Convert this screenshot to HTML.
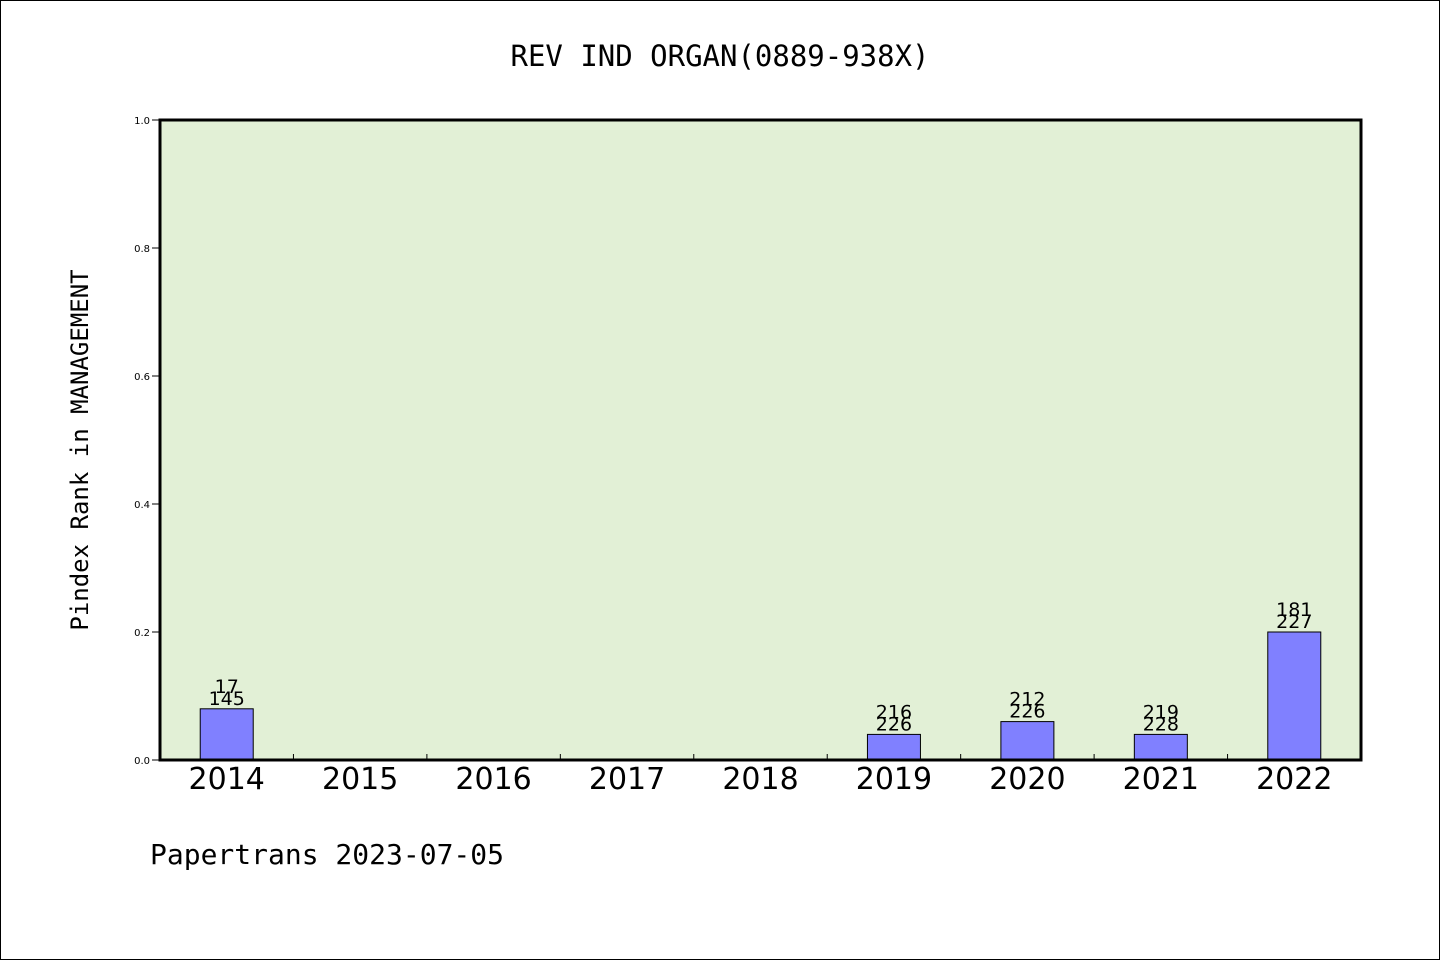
<!DOCTYPE html>
<html><head><meta charset="utf-8"><style>
body{margin:0;background:#fff}
svg{display:block}
.mono{font-family:"DejaVu Sans Mono","Liberation Mono",monospace}
.sans{font-family:"DejaVu Sans","Liberation Sans",sans-serif}
</style></head><body>
<svg id="chart" width="1440" height="960" xmlns="http://www.w3.org/2000/svg">
<rect x="0.5" y="0.5" width="1439" height="959" fill="#fff" stroke="#000"/>
<text class="mono" x="720" y="66" font-size="29" text-anchor="middle">REV IND ORGAN(0889-938X)</text>
<rect x="160" y="120" width="1201" height="640" fill="#e2f0d6"/>
<g id="marks"></g>
<rect x="160" y="120" width="1201" height="640" fill="none" stroke="#000" stroke-width="3"/>
<text class="mono" transform="translate(88,450) rotate(-90)" font-size="24" text-anchor="middle">Pindex Rank in MANAGEMENT</text>
<text class="mono" x="150" y="864" font-size="28">Papertrans 2023-07-05</text>
</svg>
<script>
const categories=["2014","2015","2016","2017","2018","2019","2020","2021","2022"];
const values=[0.08,0,0,0,0,0.04,0.06,0.04,0.2];
const labelTop=["17","","","","","216","212","219","181"];
const labelBottom=["145","","","","","226","226","228","227"];
const yTicks=[0,0.2,0.4,0.6,0.8,1.0];
const yTickLabels=["0.0","0.2","0.4","0.6","0.8","1.0"];
const NS="http://www.w3.org/2000/svg";
const L=160,R=1361,T=120,B=760;
const bw=(R-L)/categories.length;
const xc=i=>L+bw*(i+0.5);
const y=v=>B-(v/1)*(B-T);
const g=document.getElementById('marks');
function mk(t,a){const e=document.createElementNS(NS,t);for(const k in a)e.setAttribute(k,a[k]);g.appendChild(e);return e;}
yTicks.forEach((v,i)=>{
 const l=mk('line',{x1:152,x2:160,y1:y(v),y2:y(v),stroke:'#000'});
 
 
 const t=mk('text',{x:150,y:y(v)+4,'font-size':10,'text-anchor':'end','class':'sans'});
 t.textContent=yTickLabels[i];
 
 
});
for(let i=1;i<categories.length;i++){
 const l=mk('line',{x1:L+bw*i,x2:L+bw*i,y1:B,y2:B-6,stroke:'#000'});
 
 
}
categories.forEach((c,i)=>{
 const t=mk('text',{x:xc(i),y:789,'font-size':30,'text-anchor':'middle','class':'sans'});
 t.textContent=c;
 
 
 if(values[i]>0){
  const r=mk('rect',{x:xc(i)-26.5,y:y(values[i]),width:53,height:B-y(values[i]),fill:'#8080ff',stroke:'#000'});
  
  
  const a=mk('text',{x:xc(i),y:y(values[i])-26+22-12,'font-size':19,'text-anchor':'middle','class':'sans'});
  a.textContent=labelTop[i];
  
  
  const b=mk('text',{x:xc(i),y:y(values[i])-4,'font-size':19,'text-anchor':'middle','class':'sans'});
  b.textContent=labelBottom[i];
  
  
 }
});
</script>
</body></html>
